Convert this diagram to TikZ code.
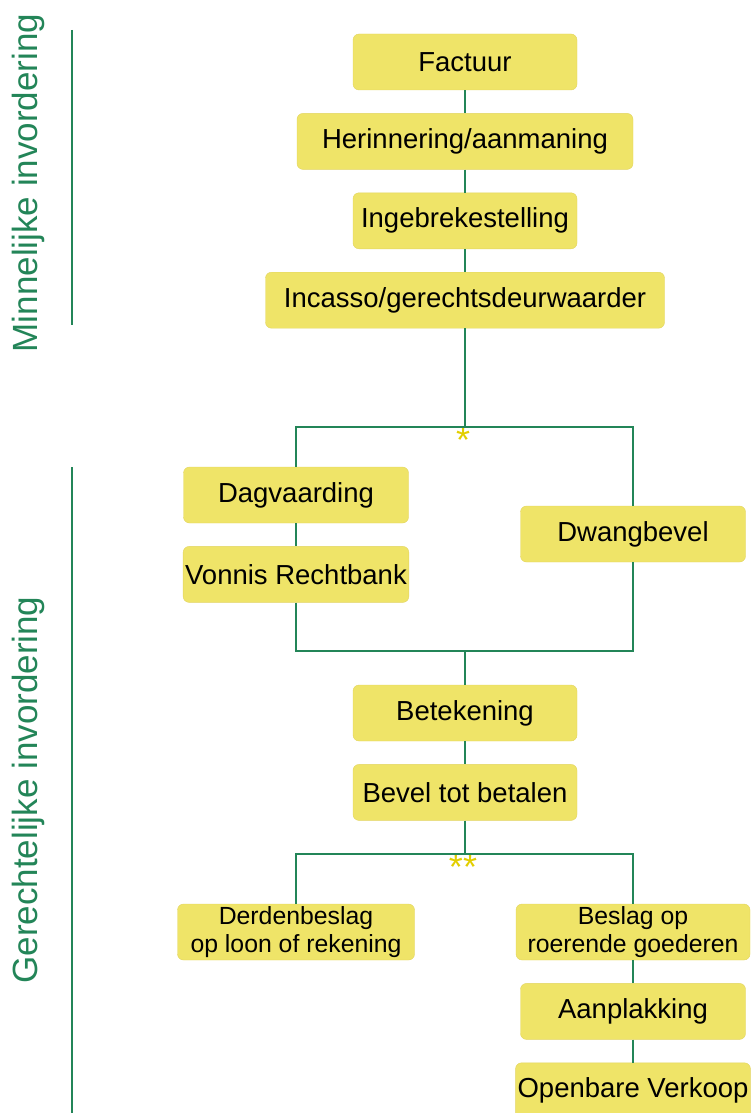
\documentclass[tikz,border=0pt]{standalone}
\usepackage{fontspec}
\setmainfont{Liberation Sans}
\usepackage{xcolor}
\usetikzlibrary{positioning}
\definecolor{lijngroen}{RGB}{35,133,88}
\definecolor{vakgeel}{RGB}{239,228,104}
\definecolor{randgeel}{RGB}{226,212,96}
\definecolor{stergeel}{RGB}{226,206,0}
\begin{document}
\begin{tikzpicture}[x=1pt,y=-1pt,node distance=23pt, stap/.style={draw=randgeel,fill=vakgeel,rounded corners=6pt,align=center,
  font=\fontsize{27.5}{32}\selectfont,minimum height=56pt,inner sep=2pt}, smal/.style={minimum width=224pt},
  twee/.style={font=\fontsize{24.8}{27.5}\selectfont}, ster/.style={text=stergeel,font=\fontsize{36}{36}\selectfont,inner sep=1pt},
  fase/.style={rotate=90,text=lijngroen,font=\fontsize{35}{35}\selectfont}, lijn/.style={draw=lijngroen,line width=2.5pt}]
\useasboundingbox (0,0) rectangle (750,1113);
% minnelijke fase
\node[stap,smal] (fac) at (465,62) {Factuur};
\node[stap,minimum width=336pt,below=of fac] (her) {Herinnering/aanmaning};
\node[stap,smal,below=of her] (ing) {Ingebrekestelling};
\node[stap,minimum width=399pt,below=of ing] (inc) {Incasso/gerechtsdeurwaarder};
% gerechtelijke fase
\node[stap,minimum width=225pt] (dag) at (296,495) {Dagvaarding};
\node[stap,minimum width=225pt,below=of dag] (von) {Vonnis Rechtbank};
\node[stap,minimum width=225pt] (dwa) at (633,534) {Dwangbevel};
\node[stap,smal] (bet) at (465,713) {Betekening};
\node[stap,smal,below=of bet] (bev) {Bevel tot betalen};
\node[stap,twee,minimum width=237pt] (der) at (296,932) {Derdenbeslag\\op loon of rekening};
\node[stap,twee,minimum width=234pt] (bes) at (633,932) {Beslag op\\roerende goederen};
\node[stap,minimum width=225pt,below=of bes] (aan) {Aanplakking};
\node[stap,minimum width=234pt,below=of aan] (ope) {Openbare Verkoop};
\coordinate (t1) at (465,427); \coordinate (j1) at (465,651); \coordinate (t2) at (465,854);
\node[ster,anchor=north] (s1) at (463,427) {*};
\node[ster,anchor=north] (s2) at (463,854) {**};
% zijlabels
\node[fase] (min) at (28,183) {Minnelijke invordering};
\node[fase] (ger) at (28,790) {Gerechtelijke invordering};
\coordinate (m1) at (72,30); \coordinate (m2) at (72,325); \coordinate (g1) at (72,467); \coordinate (g2) at (72,1113);
\draw[lijn] (fac)--(her); \draw[lijn] (her)--(ing); \draw[lijn] (ing)--(inc); \draw[lijn] (inc)--(t1);
\draw[lijn] (dag) |- (t1) -| (dwa); \draw[lijn] (dag)--(von);
\draw[lijn] (von) |- (j1) -| (dwa); \draw[lijn] (j1)--(bet); \draw[lijn] (bet)--(bev); \draw[lijn] (bev)--(t2);
\draw[lijn] (der) |- (t2) -| (bes); \draw[lijn] (bes)--(aan); \draw[lijn] (aan)--(ope);
\draw[lijn] (m1)--(m2); \draw[lijn] (g1)--(g2);
\end{tikzpicture}
\end{document}
